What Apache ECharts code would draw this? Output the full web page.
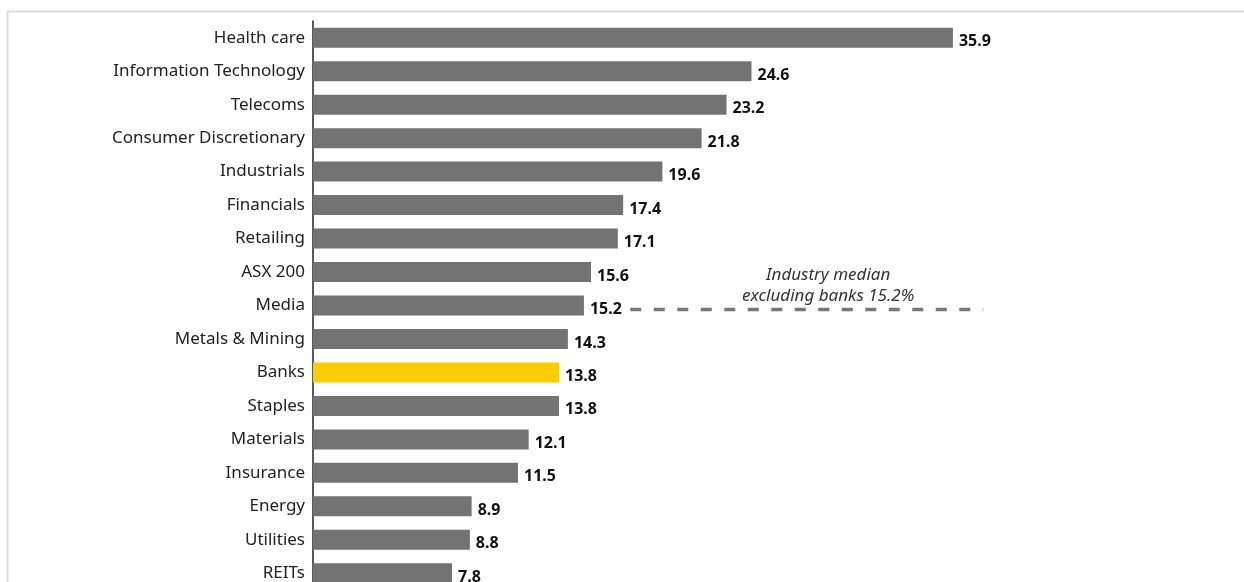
<!DOCTYPE html>
<html>
<head>
<meta charset="utf-8">
<script src="https://cdn.jsdelivr.net/npm/echarts@6/dist/echarts.min.js"></script>
<style>
  html, body { margin: 0; padding: 0; background: #fff; }
  #chart { width: 1244px; height: 582px; }
</style>
</head>
<body>
<div id="chart"></div>
<script>
// Sector values, top to bottom
const categories = [
  'Health care', 'Information Technology', 'Telecoms', 'Consumer Discretionary',
  'Industrials', 'Financials', 'Retailing', 'ASX 200', 'Media', 'Metals & Mining',
  'Banks', 'Staples', 'Materials', 'Insurance', 'Energy', 'Utilities', 'REITs'
];
const values = [35.9, 24.6, 23.2, 21.8, 19.6, 17.4, 17.1, 15.6, 15.2, 14.3,
                13.8, 13.8, 12.1, 11.5, 8.9, 8.8, 7.8];
const highlighted = ['Banks'];

// Median reference line (excluding banks)
const medianValue = 15.2;
const medianRow = 'Media';
const medianText = ['Industry median', 'excluding banks ' + medianValue + '%'];

// Horizontal extent of the dashed median guide, in axis units
const guideFrom = 17.8;
const guideTo = 37.6;
const guideTextAt = 28.9;

const FONT = '"Noto Sans", "Open Sans", sans-serif';

const chart = echarts.init(document.getElementById('chart'));

chart.setOption({
  animation: false,
  backgroundColor: '#fff',
  grid: {
    left: 313, width: 713, top: 21, height: 569,
    containLabel: false,
    outerBoundsMode: 'none'
  },
  xAxis: {
    type: 'value', min: 0, max: 40,
    show: false
  },
  yAxis: {
    type: 'category',
    data: categories,
    inverse: true,
    axisLine: { show: true, lineStyle: { color: '#222', width: 1.5 } },
    axisTick: { show: false },
    axisLabel: { color: '#222', fontSize: 17, fontFamily: FONT, margin: 8 },
    splitLine: { show: false }
  },
  series: [{
    type: 'bar',
    barWidth: 20,
    data: values.map((v, i) => ({
      value: v,
      itemStyle: { color: highlighted.includes(categories[i]) ? '#ffcc00' : '#737373' }
    })),
    label: {
      show: true,
      position: 'right',
      distance: 6,
      offset: [0, 4],
      color: '#111',
      fontSize: 16,
      fontWeight: 'bold',
      fontFamily: FONT
    }
  }]
});

// Dashed median guide and its caption, placed through the axis scales
const p0 = chart.convertToPixel({ gridIndex: 0 }, [guideFrom, medianRow]);
const p1 = chart.convertToPixel({ gridIndex: 0 }, [guideTo, medianRow]);
const pt = chart.convertToPixel({ gridIndex: 0 }, [guideTextAt, medianRow]);

chart.setOption({
  graphic: [
    {
      type: 'rect',
      silent: true,
      shape: { x: 7.5, y: 11.5, width: 1400, height: 800 },
      style: { fill: 'none', stroke: '#dedede', lineWidth: 2 },
      z: -1
    },
    {
      type: 'line',
      silent: true,
      shape: { x1: p0[0], y1: p0[1] + 4, x2: p1[0], y2: p1[1] + 4 },
      style: { stroke: '#777', lineWidth: 3.5, lineDash: [11, 12.5] }
    },
    {
      type: 'text',
      silent: true,
      x: pt[0],
      y: pt[1] - 20,
      style: {
        text: medianText.join('\n'),
        align: 'center',
        verticalAlign: 'middle',
        fill: '#333',
        font: 'italic 17px ' + FONT,
        lineHeight: 21
      }
    }
  ]
});
</script>
</body>
</html>
